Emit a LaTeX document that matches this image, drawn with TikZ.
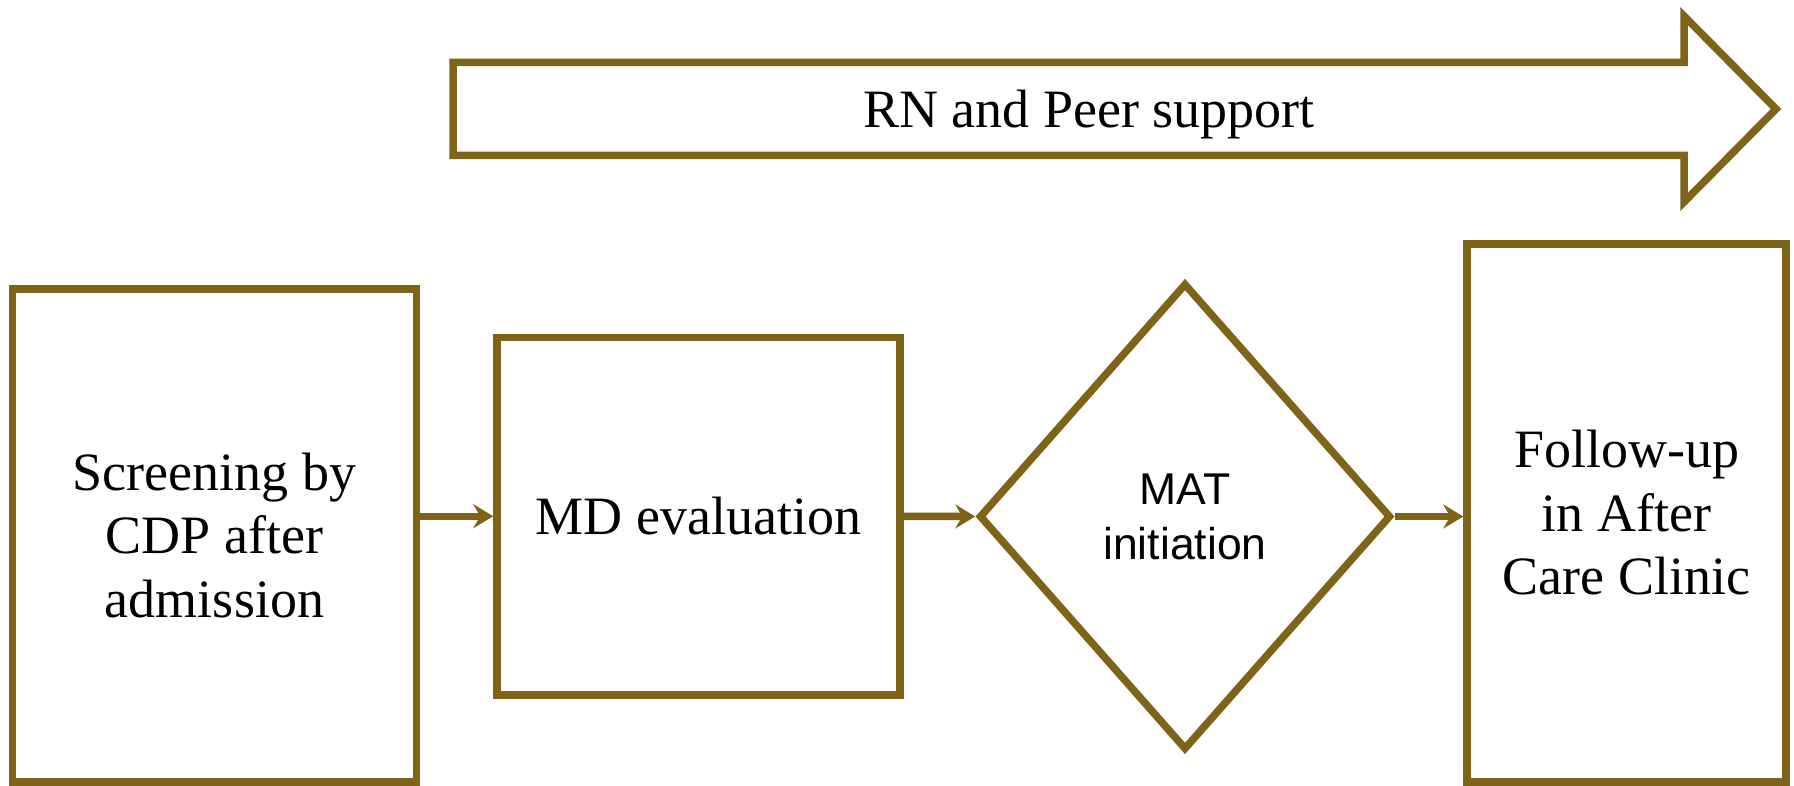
\documentclass[tikz,border=0pt]{standalone}
\usepackage{fontspec}
\setmainfont{Liberation Serif}
\newfontfamily\sansf{Liberation Sans}
\usetikzlibrary{shapes.geometric,arrows.meta}
\definecolor{brd}{RGB}{127,99,25}
\begin{document}
\begin{tikzpicture}[x=1pt,y=-1pt,
  boxstyle/.style={draw=brd, line width=7.5pt, rectangle, align=center, inner sep=0pt, font=\fontsize{54}{63.5}\selectfont},
  diastyle/.style={draw=brd, line width=7.5pt, diamond, align=center, inner sep=0pt, font=\sansf\fontsize{44.5}{55}\selectfont},
  flow/.style={draw=brd, line width=7.5pt, -{Stealth[length=20pt,width=24pt,inset=7pt]}},
  bigarrow/.style={draw=brd, line width=7.5pt},
]
\useasboundingbox (0,0) rectangle (1794,786);
\fill[white] (0,0) rectangle (1794,786);
% block arrow
\draw[bigarrow] (453,62.5) -- (1684,62.5) -- (1684,16) -- (1776,109) -- (1684,202) -- (1684,155.5) -- (453,155.5) -- cycle;
\node[anchor=base, font=\fontsize{54}{63}\selectfont] (rn) at (1089,128) {RN and Peer support};
% process nodes
\node[boxstyle, minimum width=404pt, minimum height=493pt] (scr) at (214.5,535.5) {Screening by\\CDP after\\admission};
\node[boxstyle, minimum width=403pt, minimum height=357.5pt] (md) at (698.5,516.25) {MD evaluation};
\node[diastyle, minimum width=412pt, minimum height=467pt] (mat) at (1185,516.5) {MAT\\initiation};
\node[boxstyle, minimum width=319pt, minimum height=538pt] (fu) at (1626.5,513) {Follow-up\\in After\\Care Clinic};
% connectors
\draw[flow] (scr.east |- md.west) -- (md.west);
\draw[flow] (md.east) -- (mat.west);
\draw[flow] (mat.east) -- (fu.west |- mat.east);
\end{tikzpicture}
\end{document}
